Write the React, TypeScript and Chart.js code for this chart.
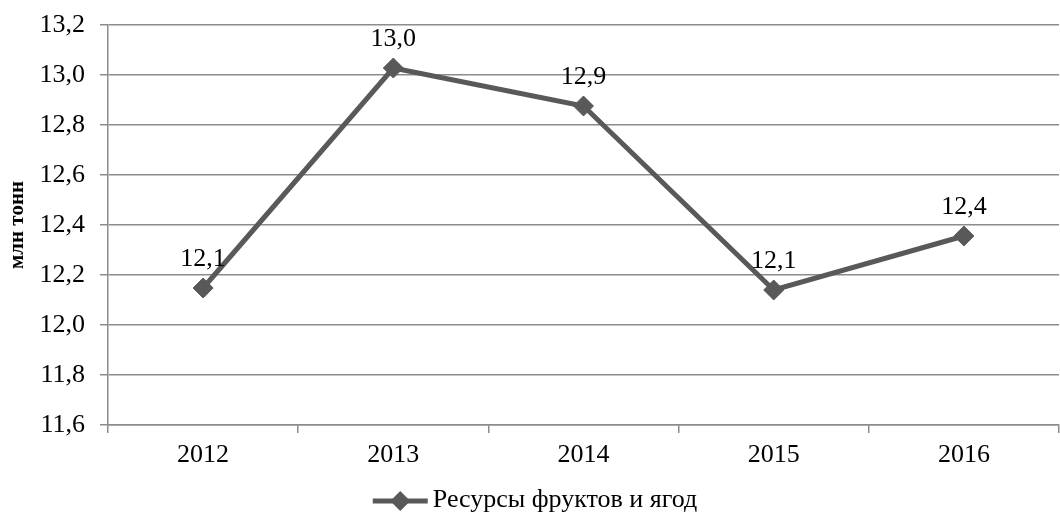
import React, { useEffect, useRef } from "react";
import { Chart, registerables } from "chart.js";

Chart.register(...registerables);

const categories = ["2012", "2013", "2014", "2015", "2016"];
const seriesLabel = "Ресурсы фруктов и ягод";
const seriesValues = [12.148, 13.028, 12.876, 12.14, 12.356];
const yMin = 11.6;
const yMax = 13.2;
const yStep = 0.2;
const yTitle = "млн тонн";

const FONT = "'Liberation Serif', 'Times New Roman', serif";
const LINE_COLOR = "#595959";
const GRID_COLOR = "#8c8c8c";

const fmt = (v: number) => v.toFixed(1).replace(".", ",");

const dataLabelPlugin = {
  id: "dataLabels",
  afterDatasetsDraw(chart: any) {
    const ctx = chart.ctx;
    ctx.save();
    ctx.font = `26px ${FONT}`;
    ctx.fillStyle = "#000";
    ctx.textAlign = "center";
    ctx.textBaseline = "middle";
    chart.data.datasets.forEach((ds: any, i: number) => {
      const meta = chart.getDatasetMeta(i);
      meta.data.forEach((pt: any, j: number) => {
        ctx.fillText(fmt(ds.data[j]), pt.x, pt.y - 29);
      });
    });
    ctx.restore();
  },
};

const customLegendPlugin = {
  id: "customLegend",
  afterDraw(chart: any) {
    const ctx = chart.ctx;
    const ds = chart.data.datasets[0];
    ctx.save();
    ctx.font = `26px ${FONT}`;
    const tw = ctx.measureText(ds.label).width;
    const lineW = 55;
    const gap = 5;
    const total = lineW + gap + tw;
    const x0 = (chart.width - total) / 2;
    const y = 501;
    ctx.strokeStyle = LINE_COLOR;
    ctx.lineWidth = 5;
    ctx.beginPath();
    ctx.moveTo(x0, y);
    ctx.lineTo(x0 + lineW, y);
    ctx.stroke();
    const cx = x0 + lineW / 2;
    const r = 10;
    ctx.fillStyle = LINE_COLOR;
    ctx.beginPath();
    ctx.moveTo(cx - r, y);
    ctx.lineTo(cx, y - r);
    ctx.lineTo(cx + r, y);
    ctx.lineTo(cx, y + r);
    ctx.closePath();
    ctx.fill();
    ctx.fillStyle = "#000";
    ctx.textAlign = "left";
    ctx.textBaseline = "middle";
    ctx.fillText(ds.label, x0 + lineW + gap, y - 1);
    ctx.restore();
  },
};

export default function App() {
  const ref = useRef<HTMLCanvasElement | null>(null);

  useEffect(() => {
    if (!ref.current) return;
    const chart = new Chart(ref.current, {
      type: "line",
      data: {
        labels: categories,
        datasets: [
          {
            label: seriesLabel,
            data: seriesValues,
            borderColor: LINE_COLOR,
            backgroundColor: LINE_COLOR,
            borderWidth: 5,
            pointStyle: "rectRot",
            pointRadius: 10,
            pointBorderWidth: 1,
            pointBackgroundColor: LINE_COLOR,
            pointBorderColor: LINE_COLOR,
            tension: 0,
          },
        ],
      },
      options: {
        responsive: false,
        animation: false,
        layout: { padding: { top: 25, left: 0, right: 0, bottom: 46 } },
        plugins: {
          legend: { display: false },
          tooltip: { enabled: false },
        },
        scales: {
          x: {
            offset: true,
            afterFit: (s: any) => {
              s.height = 53;
            },
            grid: {
              offset: true,
              drawOnChartArea: false,
              drawTicks: true,
              tickLength: 8,
              color: GRID_COLOR,
              lineWidth: 1.5,
            },
            border: { color: GRID_COLOR, width: 1.5 },
            ticks: {
              color: "#000",
              font: { family: FONT, size: 26 },
              padding: 7,
              maxRotation: 0,
            },
          },
          y: {
            min: yMin,
            max: yMax,
            afterFit: (s: any) => {
              s.width = 108;
              s.paddingTop = 0;
              s.paddingBottom = 0;
            },
            ticks: {
              stepSize: yStep,
              color: "#000",
              font: { family: FONT, size: 26 },
              padding: 15,
              callback: (v: any) => fmt(Number(v)),
            },
            grid: {
              color: GRID_COLOR,
              lineWidth: 1.5,
              drawTicks: true,
              tickLength: 8,
            },
            border: { color: GRID_COLOR, width: 1.5 },
            title: {
              display: true,
              text: yTitle,
              color: "#000",
              font: { family: FONT, size: 21, weight: "bold" },
              padding: { top: 5, bottom: 0 },
            },
          },
        },
      },
      plugins: [dataLabelPlugin, customLegendPlugin],
    });
    return () => chart.destroy();
  }, []);

  return (
    <div
      style={{
        position: "absolute",
        left: 0,
        top: 0,
        width: 1060,
        height: 524,
        overflow: "hidden",
        background: "#fff",
      }}
    >
      <canvas ref={ref} width={1070} height={524} style={{ width: 1070, height: 524, display: "block" }} />
    </div>
  );
}
